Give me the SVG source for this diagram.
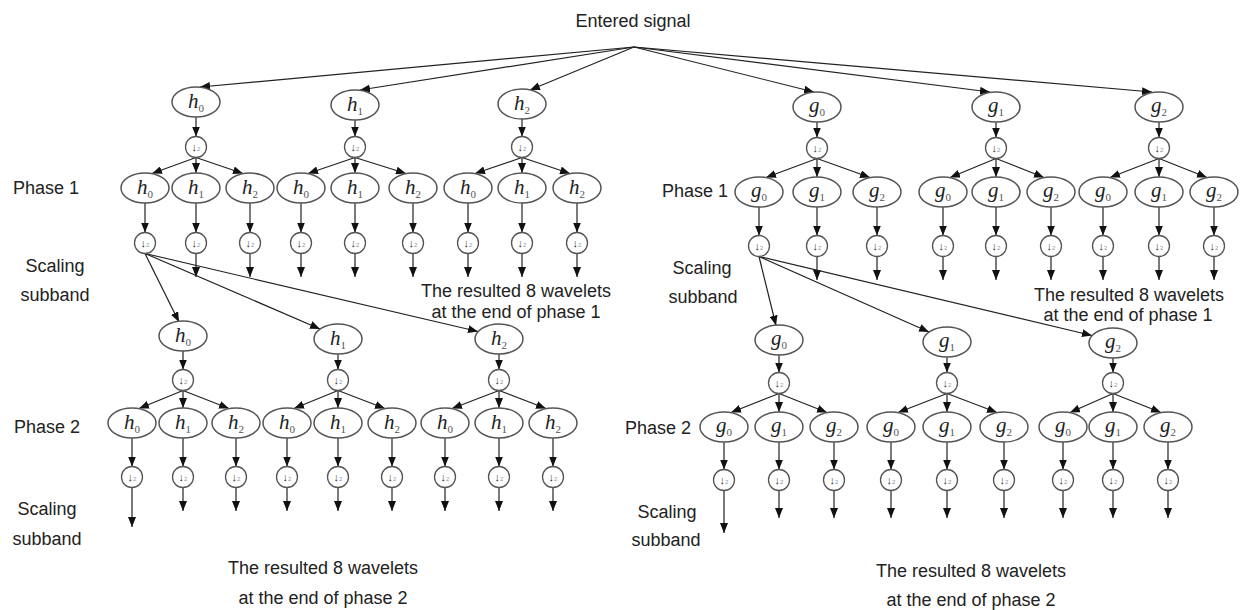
<svg xmlns="http://www.w3.org/2000/svg" width="1241" height="610" viewBox="0 0 1241 610">
<defs>
<marker id="ah" markerWidth="10" markerHeight="8" refX="10" refY="4" orient="auto" markerUnits="userSpaceOnUse"><path d="M0,0 L10,4 L0,8 z" fill="#111"/></marker>
<style>
.f ellipse{fill:#fff;stroke:#555;stroke-width:1.5}
.f text{font-family:"Liberation Serif",serif;font-style:italic;font-size:21px;fill:#222;text-anchor:middle}
.f tspan{font-style:normal;font-size:11px;fill:#555}
.ds circle{fill:#fff;stroke:#555;stroke-width:1.3}
.ds text{font-family:"Liberation Sans",sans-serif;font-size:11px;fill:#333;text-anchor:middle}
.ds tspan{font-size:6px;fill:#8a96a8}
#edges line{stroke:#222;stroke-width:1.2;fill:none;marker-end:url(#ah)}
.lab{font-family:"Liberation Sans",Arial,sans-serif;font-size:18px;fill:#222}
.m{text-anchor:middle}
</style>
</defs>
<rect width="1241" height="610" fill="#fff"/>
<g id="edges">
<line x1="634" y1="47" x2="200" y2="87"/>
<line x1="634" y1="47" x2="360" y2="90"/>
<line x1="634" y1="47" x2="530" y2="90"/>
<line x1="634" y1="47" x2="814" y2="92"/>
<line x1="634" y1="47" x2="990" y2="92"/>
<line x1="634" y1="47" x2="1152" y2="92"/>
<line x1="196" y1="117" x2="196" y2="136.5"/>
<line x1="355" y1="120" x2="355" y2="136.5"/>
<line x1="522" y1="119" x2="522" y2="136.5"/>
<line x1="817" y1="122" x2="817" y2="137.5"/>
<line x1="996" y1="122" x2="996" y2="137.5"/>
<line x1="1159" y1="122" x2="1159" y2="137.5"/>
<line x1="196" y1="157.5" x2="152" y2="173.5"/>
<line x1="196" y1="157.5" x2="196" y2="173"/>
<line x1="196" y1="157.5" x2="243" y2="173.5"/>
<line x1="355" y1="157.5" x2="308" y2="173.5"/>
<line x1="355" y1="157.5" x2="355" y2="173"/>
<line x1="355" y1="157.5" x2="406" y2="173.5"/>
<line x1="522" y1="157.5" x2="475" y2="173.5"/>
<line x1="522" y1="157.5" x2="522" y2="173"/>
<line x1="522" y1="157.5" x2="570" y2="173.5"/>
<line x1="817" y1="158.5" x2="766" y2="177.5"/>
<line x1="817" y1="158.5" x2="817" y2="177"/>
<line x1="817" y1="158.5" x2="870" y2="177.5"/>
<line x1="996" y1="158.5" x2="950" y2="177.5"/>
<line x1="996" y1="158.5" x2="996" y2="177"/>
<line x1="996" y1="158.5" x2="1044" y2="177.5"/>
<line x1="1159" y1="158.5" x2="1110" y2="177.5"/>
<line x1="1159" y1="158.5" x2="1159" y2="177"/>
<line x1="1159" y1="158.5" x2="1207" y2="177.5"/>
<line x1="145" y1="203" x2="145" y2="232.5"/>
<line x1="196" y1="203" x2="196" y2="232.5"/>
<line x1="250" y1="203" x2="250" y2="232.5"/>
<line x1="301" y1="203" x2="301" y2="232.5"/>
<line x1="355" y1="203" x2="355" y2="232.5"/>
<line x1="413" y1="203" x2="413" y2="232.5"/>
<line x1="468" y1="203" x2="468" y2="232.5"/>
<line x1="522" y1="203" x2="522" y2="232.5"/>
<line x1="577" y1="203" x2="577" y2="232.5"/>
<line x1="759" y1="207" x2="759" y2="235.5"/>
<line x1="817" y1="207" x2="817" y2="235.5"/>
<line x1="877" y1="207" x2="877" y2="235.5"/>
<line x1="943" y1="207" x2="943" y2="235.5"/>
<line x1="996" y1="207" x2="996" y2="235.5"/>
<line x1="1051" y1="207" x2="1051" y2="235.5"/>
<line x1="1103" y1="207" x2="1103" y2="235.5"/>
<line x1="1159" y1="207" x2="1159" y2="235.5"/>
<line x1="1214" y1="207" x2="1214" y2="235.5"/>
<line x1="196" y1="253.5" x2="196" y2="277"/>
<line x1="250" y1="253.5" x2="250" y2="277"/>
<line x1="301" y1="253.5" x2="301" y2="277"/>
<line x1="355" y1="253.5" x2="355" y2="277"/>
<line x1="413" y1="253.5" x2="413" y2="277"/>
<line x1="468" y1="253.5" x2="468" y2="277"/>
<line x1="522" y1="253.5" x2="522" y2="277"/>
<line x1="577" y1="253.5" x2="577" y2="277"/>
<line x1="817" y1="256.5" x2="817" y2="280"/>
<line x1="877" y1="256.5" x2="877" y2="280"/>
<line x1="943" y1="256.5" x2="943" y2="280"/>
<line x1="996" y1="256.5" x2="996" y2="280"/>
<line x1="1051" y1="256.5" x2="1051" y2="280"/>
<line x1="1103" y1="256.5" x2="1103" y2="280"/>
<line x1="1159" y1="256.5" x2="1159" y2="280"/>
<line x1="1214" y1="256.5" x2="1214" y2="280"/>
<line x1="145" y1="253.5" x2="179" y2="322"/>
<line x1="145" y1="253.5" x2="320" y2="329"/>
<line x1="145" y1="253.5" x2="478" y2="331.5"/>
<line x1="759" y1="256.5" x2="776" y2="325.5"/>
<line x1="759" y1="256.5" x2="929" y2="332"/>
<line x1="759" y1="256.5" x2="1092" y2="335.5"/>
<line x1="183" y1="351" x2="183" y2="369.5"/>
<line x1="338" y1="354" x2="338" y2="369.5"/>
<line x1="499" y1="354" x2="499" y2="369.5"/>
<line x1="779" y1="355" x2="779" y2="372.5"/>
<line x1="947" y1="357" x2="947" y2="372.5"/>
<line x1="1113" y1="358" x2="1113" y2="372.5"/>
<line x1="183" y1="390.5" x2="139" y2="408.5"/>
<line x1="183" y1="390.5" x2="183" y2="408"/>
<line x1="183" y1="390.5" x2="229" y2="408.5"/>
<line x1="338" y1="390.5" x2="294" y2="408.5"/>
<line x1="338" y1="390.5" x2="338" y2="408"/>
<line x1="338" y1="390.5" x2="385" y2="408.5"/>
<line x1="499" y1="390.5" x2="452" y2="408.5"/>
<line x1="499" y1="390.5" x2="499" y2="408"/>
<line x1="499" y1="390.5" x2="546" y2="408.5"/>
<line x1="779" y1="393.5" x2="731" y2="412.5"/>
<line x1="779" y1="393.5" x2="779" y2="412"/>
<line x1="779" y1="393.5" x2="827" y2="412.5"/>
<line x1="947" y1="393.5" x2="898" y2="412.5"/>
<line x1="947" y1="393.5" x2="947" y2="412"/>
<line x1="947" y1="393.5" x2="997" y2="412.5"/>
<line x1="1113" y1="393.5" x2="1070" y2="412.5"/>
<line x1="1113" y1="393.5" x2="1113" y2="412"/>
<line x1="1113" y1="393.5" x2="1161" y2="412.5"/>
<line x1="132" y1="438" x2="132" y2="466.5"/>
<line x1="183" y1="438" x2="183" y2="466.5"/>
<line x1="236" y1="438" x2="236" y2="466.5"/>
<line x1="287" y1="438" x2="287" y2="466.5"/>
<line x1="338" y1="438" x2="338" y2="466.5"/>
<line x1="392" y1="438" x2="392" y2="466.5"/>
<line x1="445" y1="438" x2="445" y2="466.5"/>
<line x1="499" y1="438" x2="499" y2="466.5"/>
<line x1="553" y1="438" x2="553" y2="466.5"/>
<line x1="724" y1="442" x2="724" y2="469.5"/>
<line x1="779" y1="442" x2="779" y2="469.5"/>
<line x1="834" y1="442" x2="834" y2="469.5"/>
<line x1="891" y1="442" x2="891" y2="469.5"/>
<line x1="947" y1="442" x2="947" y2="469.5"/>
<line x1="1004" y1="442" x2="1004" y2="469.5"/>
<line x1="1063" y1="442" x2="1063" y2="469.5"/>
<line x1="1113" y1="442" x2="1113" y2="469.5"/>
<line x1="1168" y1="442" x2="1168" y2="469.5"/>
<line x1="132" y1="487.5" x2="132" y2="527"/>
<line x1="183" y1="487.5" x2="183" y2="511"/>
<line x1="236" y1="487.5" x2="236" y2="511"/>
<line x1="287" y1="487.5" x2="287" y2="511"/>
<line x1="338" y1="487.5" x2="338" y2="511"/>
<line x1="392" y1="487.5" x2="392" y2="511"/>
<line x1="445" y1="487.5" x2="445" y2="511"/>
<line x1="499" y1="487.5" x2="499" y2="511"/>
<line x1="553" y1="487.5" x2="553" y2="511"/>
<line x1="724" y1="490.5" x2="724" y2="533"/>
<line x1="779" y1="490.5" x2="779" y2="518"/>
<line x1="834" y1="490.5" x2="834" y2="518"/>
<line x1="891" y1="490.5" x2="891" y2="518"/>
<line x1="947" y1="490.5" x2="947" y2="518"/>
<line x1="1004" y1="490.5" x2="1004" y2="518"/>
<line x1="1063" y1="490.5" x2="1063" y2="518"/>
<line x1="1113" y1="490.5" x2="1113" y2="518"/>
<line x1="1168" y1="490.5" x2="1168" y2="518"/>
</g>
<g id="nodes">
<g id="t-h0" class="f"><ellipse cx="196" cy="102" rx="24" ry="15"/><text x="196" y="108">h<tspan dy="4">0</tspan></text></g>
<g id="t-h1" class="f"><ellipse cx="355" cy="105" rx="24" ry="15"/><text x="355" y="111">h<tspan dy="4">1</tspan></text></g>
<g id="t-h2" class="f"><ellipse cx="522" cy="104" rx="24" ry="15"/><text x="522" y="110">h<tspan dy="4">2</tspan></text></g>
<g id="t-g0" class="f"><ellipse cx="817" cy="107" rx="24" ry="15"/><text x="817" y="112">g<tspan dy="4">0</tspan></text></g>
<g id="t-g1" class="f"><ellipse cx="996" cy="107" rx="24" ry="15"/><text x="996" y="112">g<tspan dy="4">1</tspan></text></g>
<g id="t-g2" class="f"><ellipse cx="1159" cy="107" rx="24" ry="15"/><text x="1159" y="112">g<tspan dy="4">2</tspan></text></g>
<g id="t-d-h0" class="ds"><circle cx="196" cy="147" r="10.5"/><text x="196" y="151">↓<tspan>2</tspan></text></g>
<g id="t-d-h1" class="ds"><circle cx="355" cy="147" r="10.5"/><text x="355" y="151">↓<tspan>2</tspan></text></g>
<g id="t-d-h2" class="ds"><circle cx="522" cy="147" r="10.5"/><text x="522" y="151">↓<tspan>2</tspan></text></g>
<g id="t-d-g0" class="ds"><circle cx="817" cy="148" r="10.5"/><text x="817" y="152">↓<tspan>2</tspan></text></g>
<g id="t-d-g1" class="ds"><circle cx="996" cy="148" r="10.5"/><text x="996" y="152">↓<tspan>2</tspan></text></g>
<g id="t-d-g2" class="ds"><circle cx="1159" cy="148" r="10.5"/><text x="1159" y="152">↓<tspan>2</tspan></text></g>
<g id="p1-h0-h0" class="f"><ellipse cx="145" cy="188" rx="24" ry="15"/><text x="145" y="194">h<tspan dy="4">0</tspan></text></g>
<g id="p1-h0-h1" class="f"><ellipse cx="196" cy="188" rx="24" ry="15"/><text x="196" y="194">h<tspan dy="4">1</tspan></text></g>
<g id="p1-h0-h2" class="f"><ellipse cx="250" cy="188" rx="24" ry="15"/><text x="250" y="194">h<tspan dy="4">2</tspan></text></g>
<g id="p1-h1-h0" class="f"><ellipse cx="301" cy="188" rx="24" ry="15"/><text x="301" y="194">h<tspan dy="4">0</tspan></text></g>
<g id="p1-h1-h1" class="f"><ellipse cx="355" cy="188" rx="24" ry="15"/><text x="355" y="194">h<tspan dy="4">1</tspan></text></g>
<g id="p1-h1-h2" class="f"><ellipse cx="413" cy="188" rx="24" ry="15"/><text x="413" y="194">h<tspan dy="4">2</tspan></text></g>
<g id="p1-h2-h0" class="f"><ellipse cx="468" cy="188" rx="24" ry="15"/><text x="468" y="194">h<tspan dy="4">0</tspan></text></g>
<g id="p1-h2-h1" class="f"><ellipse cx="522" cy="188" rx="24" ry="15"/><text x="522" y="194">h<tspan dy="4">1</tspan></text></g>
<g id="p1-h2-h2" class="f"><ellipse cx="577" cy="188" rx="24" ry="15"/><text x="577" y="194">h<tspan dy="4">2</tspan></text></g>
<g id="p1-d-1" class="ds"><circle cx="145" cy="243" r="10.5"/><text x="145" y="247">↓<tspan>2</tspan></text></g>
<g id="p1-d-2" class="ds"><circle cx="196" cy="243" r="10.5"/><text x="196" y="247">↓<tspan>2</tspan></text></g>
<g id="p1-d-3" class="ds"><circle cx="250" cy="243" r="10.5"/><text x="250" y="247">↓<tspan>2</tspan></text></g>
<g id="p1-d-4" class="ds"><circle cx="301" cy="243" r="10.5"/><text x="301" y="247">↓<tspan>2</tspan></text></g>
<g id="p1-d-5" class="ds"><circle cx="355" cy="243" r="10.5"/><text x="355" y="247">↓<tspan>2</tspan></text></g>
<g id="p1-d-6" class="ds"><circle cx="413" cy="243" r="10.5"/><text x="413" y="247">↓<tspan>2</tspan></text></g>
<g id="p1-d-7" class="ds"><circle cx="468" cy="243" r="10.5"/><text x="468" y="247">↓<tspan>2</tspan></text></g>
<g id="p1-d-8" class="ds"><circle cx="522" cy="243" r="10.5"/><text x="522" y="247">↓<tspan>2</tspan></text></g>
<g id="p1-d-9" class="ds"><circle cx="577" cy="243" r="10.5"/><text x="577" y="247">↓<tspan>2</tspan></text></g>
<g id="p1-g0-g0" class="f"><ellipse cx="759" cy="192" rx="24" ry="15"/><text x="759" y="197">g<tspan dy="4">0</tspan></text></g>
<g id="p1-g0-g1" class="f"><ellipse cx="817" cy="192" rx="24" ry="15"/><text x="817" y="197">g<tspan dy="4">1</tspan></text></g>
<g id="p1-g0-g2" class="f"><ellipse cx="877" cy="192" rx="24" ry="15"/><text x="877" y="197">g<tspan dy="4">2</tspan></text></g>
<g id="p1-g1-g0" class="f"><ellipse cx="943" cy="192" rx="24" ry="15"/><text x="943" y="197">g<tspan dy="4">0</tspan></text></g>
<g id="p1-g1-g1" class="f"><ellipse cx="996" cy="192" rx="24" ry="15"/><text x="996" y="197">g<tspan dy="4">1</tspan></text></g>
<g id="p1-g1-g2" class="f"><ellipse cx="1051" cy="192" rx="24" ry="15"/><text x="1051" y="197">g<tspan dy="4">2</tspan></text></g>
<g id="p1-g2-g0" class="f"><ellipse cx="1103" cy="192" rx="24" ry="15"/><text x="1103" y="197">g<tspan dy="4">0</tspan></text></g>
<g id="p1-g2-g1" class="f"><ellipse cx="1159" cy="192" rx="24" ry="15"/><text x="1159" y="197">g<tspan dy="4">1</tspan></text></g>
<g id="p1-g2-g2" class="f"><ellipse cx="1214" cy="192" rx="24" ry="15"/><text x="1214" y="197">g<tspan dy="4">2</tspan></text></g>
<g id="p1-dg-1" class="ds"><circle cx="759" cy="246" r="10.5"/><text x="759" y="250">↓<tspan>2</tspan></text></g>
<g id="p1-dg-2" class="ds"><circle cx="817" cy="246" r="10.5"/><text x="817" y="250">↓<tspan>2</tspan></text></g>
<g id="p1-dg-3" class="ds"><circle cx="877" cy="246" r="10.5"/><text x="877" y="250">↓<tspan>2</tspan></text></g>
<g id="p1-dg-4" class="ds"><circle cx="943" cy="246" r="10.5"/><text x="943" y="250">↓<tspan>2</tspan></text></g>
<g id="p1-dg-5" class="ds"><circle cx="996" cy="246" r="10.5"/><text x="996" y="250">↓<tspan>2</tspan></text></g>
<g id="p1-dg-6" class="ds"><circle cx="1051" cy="246" r="10.5"/><text x="1051" y="250">↓<tspan>2</tspan></text></g>
<g id="p1-dg-7" class="ds"><circle cx="1103" cy="246" r="10.5"/><text x="1103" y="250">↓<tspan>2</tspan></text></g>
<g id="p1-dg-8" class="ds"><circle cx="1159" cy="246" r="10.5"/><text x="1159" y="250">↓<tspan>2</tspan></text></g>
<g id="p1-dg-9" class="ds"><circle cx="1214" cy="246" r="10.5"/><text x="1214" y="250">↓<tspan>2</tspan></text></g>
<g id="p2t-h0" class="f"><ellipse cx="183" cy="336" rx="24" ry="15"/><text x="183" y="342">h<tspan dy="4">0</tspan></text></g>
<g id="p2t-h1" class="f"><ellipse cx="338" cy="339" rx="24" ry="15"/><text x="338" y="345">h<tspan dy="4">1</tspan></text></g>
<g id="p2t-h2" class="f"><ellipse cx="499" cy="339" rx="24" ry="15"/><text x="499" y="345">h<tspan dy="4">2</tspan></text></g>
<g id="p2t-g0" class="f"><ellipse cx="779" cy="340" rx="24" ry="15"/><text x="779" y="345">g<tspan dy="4">0</tspan></text></g>
<g id="p2t-g1" class="f"><ellipse cx="947" cy="342" rx="24" ry="15"/><text x="947" y="347">g<tspan dy="4">1</tspan></text></g>
<g id="p2t-g2" class="f"><ellipse cx="1113" cy="343" rx="24" ry="15"/><text x="1113" y="348">g<tspan dy="4">2</tspan></text></g>
<g id="p2t-dh0" class="ds"><circle cx="183" cy="380" r="10.5"/><text x="183" y="384">↓<tspan>2</tspan></text></g>
<g id="p2t-dh1" class="ds"><circle cx="338" cy="380" r="10.5"/><text x="338" y="384">↓<tspan>2</tspan></text></g>
<g id="p2t-dh2" class="ds"><circle cx="499" cy="380" r="10.5"/><text x="499" y="384">↓<tspan>2</tspan></text></g>
<g id="p2t-dg0" class="ds"><circle cx="779" cy="383" r="10.5"/><text x="779" y="387">↓<tspan>2</tspan></text></g>
<g id="p2t-dg1" class="ds"><circle cx="947" cy="383" r="10.5"/><text x="947" y="387">↓<tspan>2</tspan></text></g>
<g id="p2t-dg2" class="ds"><circle cx="1113" cy="383" r="10.5"/><text x="1113" y="387">↓<tspan>2</tspan></text></g>
<g id="p2-h0-h0" class="f"><ellipse cx="132" cy="423" rx="24" ry="15"/><text x="132" y="429">h<tspan dy="4">0</tspan></text></g>
<g id="p2-h0-h1" class="f"><ellipse cx="183" cy="423" rx="24" ry="15"/><text x="183" y="429">h<tspan dy="4">1</tspan></text></g>
<g id="p2-h0-h2" class="f"><ellipse cx="236" cy="423" rx="24" ry="15"/><text x="236" y="429">h<tspan dy="4">2</tspan></text></g>
<g id="p2-h1-h0" class="f"><ellipse cx="287" cy="423" rx="24" ry="15"/><text x="287" y="429">h<tspan dy="4">0</tspan></text></g>
<g id="p2-h1-h1" class="f"><ellipse cx="338" cy="423" rx="24" ry="15"/><text x="338" y="429">h<tspan dy="4">1</tspan></text></g>
<g id="p2-h1-h2" class="f"><ellipse cx="392" cy="423" rx="24" ry="15"/><text x="392" y="429">h<tspan dy="4">2</tspan></text></g>
<g id="p2-h2-h0" class="f"><ellipse cx="445" cy="423" rx="24" ry="15"/><text x="445" y="429">h<tspan dy="4">0</tspan></text></g>
<g id="p2-h2-h1" class="f"><ellipse cx="499" cy="423" rx="24" ry="15"/><text x="499" y="429">h<tspan dy="4">1</tspan></text></g>
<g id="p2-h2-h2" class="f"><ellipse cx="553" cy="423" rx="24" ry="15"/><text x="553" y="429">h<tspan dy="4">2</tspan></text></g>
<g id="p2-d-1" class="ds"><circle cx="132" cy="477" r="10.5"/><text x="132" y="481">↓<tspan>2</tspan></text></g>
<g id="p2-d-2" class="ds"><circle cx="183" cy="477" r="10.5"/><text x="183" y="481">↓<tspan>2</tspan></text></g>
<g id="p2-d-3" class="ds"><circle cx="236" cy="477" r="10.5"/><text x="236" y="481">↓<tspan>2</tspan></text></g>
<g id="p2-d-4" class="ds"><circle cx="287" cy="477" r="10.5"/><text x="287" y="481">↓<tspan>2</tspan></text></g>
<g id="p2-d-5" class="ds"><circle cx="338" cy="477" r="10.5"/><text x="338" y="481">↓<tspan>2</tspan></text></g>
<g id="p2-d-6" class="ds"><circle cx="392" cy="477" r="10.5"/><text x="392" y="481">↓<tspan>2</tspan></text></g>
<g id="p2-d-7" class="ds"><circle cx="445" cy="477" r="10.5"/><text x="445" y="481">↓<tspan>2</tspan></text></g>
<g id="p2-d-8" class="ds"><circle cx="499" cy="477" r="10.5"/><text x="499" y="481">↓<tspan>2</tspan></text></g>
<g id="p2-d-9" class="ds"><circle cx="553" cy="477" r="10.5"/><text x="553" y="481">↓<tspan>2</tspan></text></g>
<g id="p2-g0-g0" class="f"><ellipse cx="724" cy="427" rx="24" ry="15"/><text x="724" y="432">g<tspan dy="4">0</tspan></text></g>
<g id="p2-g0-g1" class="f"><ellipse cx="779" cy="427" rx="24" ry="15"/><text x="779" y="432">g<tspan dy="4">1</tspan></text></g>
<g id="p2-g0-g2" class="f"><ellipse cx="834" cy="427" rx="24" ry="15"/><text x="834" y="432">g<tspan dy="4">2</tspan></text></g>
<g id="p2-g1-g0" class="f"><ellipse cx="891" cy="427" rx="24" ry="15"/><text x="891" y="432">g<tspan dy="4">0</tspan></text></g>
<g id="p2-g1-g1" class="f"><ellipse cx="947" cy="427" rx="24" ry="15"/><text x="947" y="432">g<tspan dy="4">1</tspan></text></g>
<g id="p2-g1-g2" class="f"><ellipse cx="1004" cy="427" rx="24" ry="15"/><text x="1004" y="432">g<tspan dy="4">2</tspan></text></g>
<g id="p2-g2-g0" class="f"><ellipse cx="1063" cy="427" rx="24" ry="15"/><text x="1063" y="432">g<tspan dy="4">0</tspan></text></g>
<g id="p2-g2-g1" class="f"><ellipse cx="1113" cy="427" rx="24" ry="15"/><text x="1113" y="432">g<tspan dy="4">1</tspan></text></g>
<g id="p2-g2-g2" class="f"><ellipse cx="1168" cy="427" rx="24" ry="15"/><text x="1168" y="432">g<tspan dy="4">2</tspan></text></g>
<g id="p2-dg-1" class="ds"><circle cx="724" cy="480" r="10.5"/><text x="724" y="484">↓<tspan>2</tspan></text></g>
<g id="p2-dg-2" class="ds"><circle cx="779" cy="480" r="10.5"/><text x="779" y="484">↓<tspan>2</tspan></text></g>
<g id="p2-dg-3" class="ds"><circle cx="834" cy="480" r="10.5"/><text x="834" y="484">↓<tspan>2</tspan></text></g>
<g id="p2-dg-4" class="ds"><circle cx="891" cy="480" r="10.5"/><text x="891" y="484">↓<tspan>2</tspan></text></g>
<g id="p2-dg-5" class="ds"><circle cx="947" cy="480" r="10.5"/><text x="947" y="484">↓<tspan>2</tspan></text></g>
<g id="p2-dg-6" class="ds"><circle cx="1004" cy="480" r="10.5"/><text x="1004" y="484">↓<tspan>2</tspan></text></g>
<g id="p2-dg-7" class="ds"><circle cx="1063" cy="480" r="10.5"/><text x="1063" y="484">↓<tspan>2</tspan></text></g>
<g id="p2-dg-8" class="ds"><circle cx="1113" cy="480" r="10.5"/><text x="1113" y="484">↓<tspan>2</tspan></text></g>
<g id="p2-dg-9" class="ds"><circle cx="1168" cy="480" r="10.5"/><text x="1168" y="484">↓<tspan>2</tspan></text></g>
</g>
<g id="labels" class="lab">
<text class="m" x="633" y="27">Entered signal</text>
<text x="13" y="194">Phase 1</text>
<text class="m" x="55" y="272">Scaling</text>
<text class="m" x="55" y="301">subband</text>
<text class="m" x="516" y="297">The resulted 8 wavelets</text>
<text class="m" x="516" y="318">at the end of phase 1</text>
<text x="662" y="197">Phase 1</text>
<text class="m" x="702" y="274">Scaling</text>
<text class="m" x="703" y="303">subband</text>
<text class="m" x="1129" y="301">The resulted 8 wavelets</text>
<text class="m" x="1128" y="321">at the end of phase 1</text>
<text x="14" y="433">Phase 2</text>
<text class="m" x="47" y="515">Scaling</text>
<text class="m" x="47" y="545">subband</text>
<text class="m" x="323" y="574">The resulted 8 wavelets</text>
<text class="m" x="323" y="604">at the end of phase 2</text>
<text x="625" y="434">Phase 2</text>
<text class="m" x="667" y="518">Scaling</text>
<text class="m" x="666" y="546">subband</text>
<text class="m" x="971" y="577">The resulted 8 wavelets</text>
<text class="m" x="971" y="606">at the end of phase 2</text>
</g>
</svg>
